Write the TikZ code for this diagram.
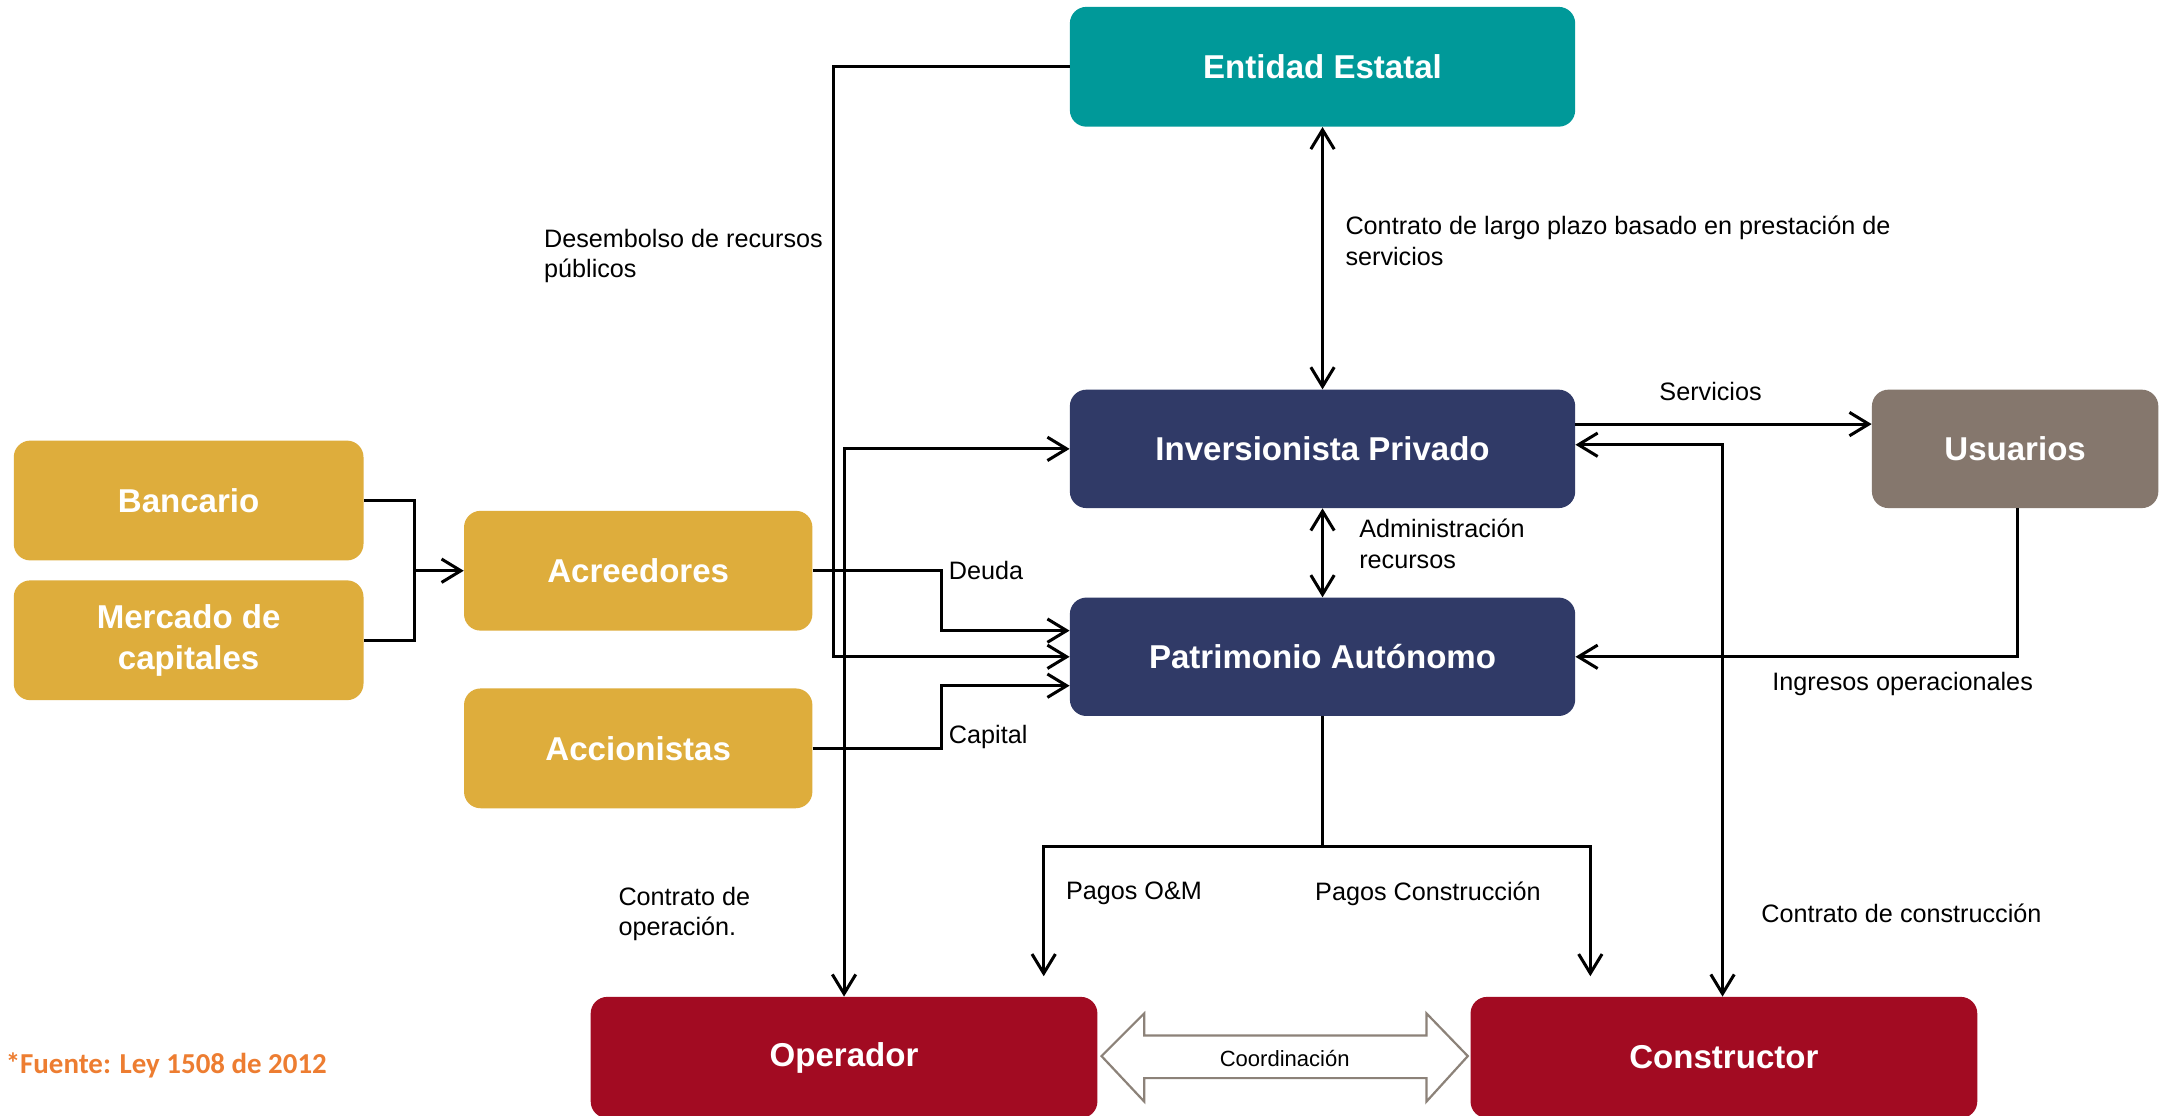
\documentclass[tikz,border=0pt]{standalone}
\usepackage{fontspec}
\setmainfont{Liberation Sans}
\newfontfamily\carlito{Carlito}
\usetikzlibrary{arrows.meta}
\definecolor{cteal}{RGB}{0,153,153}
\definecolor{cnavy}{RGB}{48,58,103}
\definecolor{cgold}{RGB}{222,173,60}
\definecolor{cbrown}{RGB}{133,119,109}
\definecolor{cred}{RGB}{162,11,34}
\definecolor{cgrey}{RGB}{140,130,121}
\definecolor{corange}{RGB}{237,125,49}
\begin{document}
\begin{tikzpicture}[x=1pt,y=-1pt,
  box/.style={rounded corners=12pt, minimum width=367pt, minimum height=87pt, inner sep=0pt,
    text=white, align=center, font=\bfseries\fontsize{24}{30}\selectfont},
  lbl/.style={anchor=west, align=left, inner sep=0pt, font=\fontsize{18.3}{22}\selectfont},
  conn/.style={line width=2.2pt, black},
  >={Straight Barb[length=14pt,width=17pt]}
]
\useasboundingbox (0,0) rectangle (1568,810);
\fill[white] (0,0) rectangle (1568,810);

% boxes
\node[box, fill=cteal] (ent) at (960.5,48.5) {Entidad Estatal};
\node[box, fill=cnavy, minimum height=86pt] (inv) at (960.5,326) {Inversionista Privado};
\node[box, fill=cnavy, minimum height=86pt] (pat) at (960.5,477) {Patrimonio Autónomo};
\node[box, fill=cbrown, minimum width=208pt, minimum height=86pt] (usu) at (1463.5,326) {Usuarios};
\node[box, fill=cgold, minimum width=254pt] (ban) at (137,363.5) {Bancario};
\node[box, fill=cgold, minimum width=254pt] (mer) at (137,465) {Mercado de\\capitales};
\node[box, fill=cgold, minimum width=253pt] (acr) at (463.5,414.5) {Acreedores};
\node[box, fill=cgold, minimum width=253pt] (acc) at (463.5,543.5) {Accionistas};
\node[box, fill=cred, minimum width=368pt, minimum height=88pt] (ope) at (613,768) {Operador};
\node[box, fill=cred, minimum width=368pt, minimum height=88pt] (con) at (1252,768) {Constructor};

% coordination double arrow
\filldraw[fill=white, draw=cgrey, line width=1.6pt, line join=miter]
  (800,767) -- (831,736) -- (831,752) -- (1036,752) -- (1036,736) -- (1066,767)
  -- (1036,800) -- (1036,783) -- (831,783) -- (831,800) -- cycle;
\node[inner sep=0pt, font=\fontsize{16}{18}\selectfont] (coord) at (933,769) {Coordinación};

% connectors
\draw[conn,->] (ent.west) -| (605,477) -- (pat.west);
\draw[conn,<->] (inv.west) -| (ope.north);
\draw[conn,<->] (ent.south) -- (inv.north);
\draw[conn,<->] (inv.south) -- (pat.north);
\draw[conn,->] ([yshift=18pt]inv.east) -- ([yshift=18pt]usu.west);
\draw[conn,<->] ([yshift=3pt]inv.east) -| ([xshift=-1pt]con.north);
\draw[conn,->] ([xshift=2pt]usu.south) |- (pat.east);

\coordinate (bj) at (960.5,615);
\coordinate (om) at (758,709);
\coordinate (pc) at (1155,709);
\draw[conn,->] (pat.south) -- (bj) -| (om);
\draw[conn,->] (bj) -| (pc);

\draw[conn,->] (acr.east) -- (684,414.5) |- ([yshift=19pt]pat.west);
\draw[conn,->] (acc.east) -- (684,543.5) |- ([yshift=-21pt]pat.west);

\coordinate (bm) at (301,414.5);
\draw[conn] (ban.east) -| (bm);
\draw[conn] (mer.east) -| (bm);
\draw[conn,->] (bm) -- (acr.west);

% labels
\node[lbl] (l1) at (395,186) {Desembolso de recursos\\públicos};
\node[lbl] (l2) at (977,175) {Contrato de largo plazo basado en prestación de\\servicios};
\node[lbl] (l3) at (1205,284) {Servicios};
\node[lbl] (l4) at (987,395) {Administración\\recursos};
\node[lbl] (l5) at (689,414) {Deuda};
\node[lbl] (l6) at (689,535) {Capital};
\node[lbl] (l7) at (1287,497) {Ingresos operacionales};
\node[lbl] (l8) at (449,664) {Contrato de\\operación.};
\node[lbl] (l9) at (774,649) {Pagos O\&M};
\node[lbl] (l10) at (955,649) {Pagos Construcción};
\node[lbl] (l11) at (1279,663) {Contrato de construcción};
\node[anchor=west, inner sep=0pt, text=corange, font=\carlito\bfseries\fontsize{21}{24}\selectfont] (src) at (4,774) {*Fuente: Ley 1508 de 2012};
\end{tikzpicture}
\end{document}
